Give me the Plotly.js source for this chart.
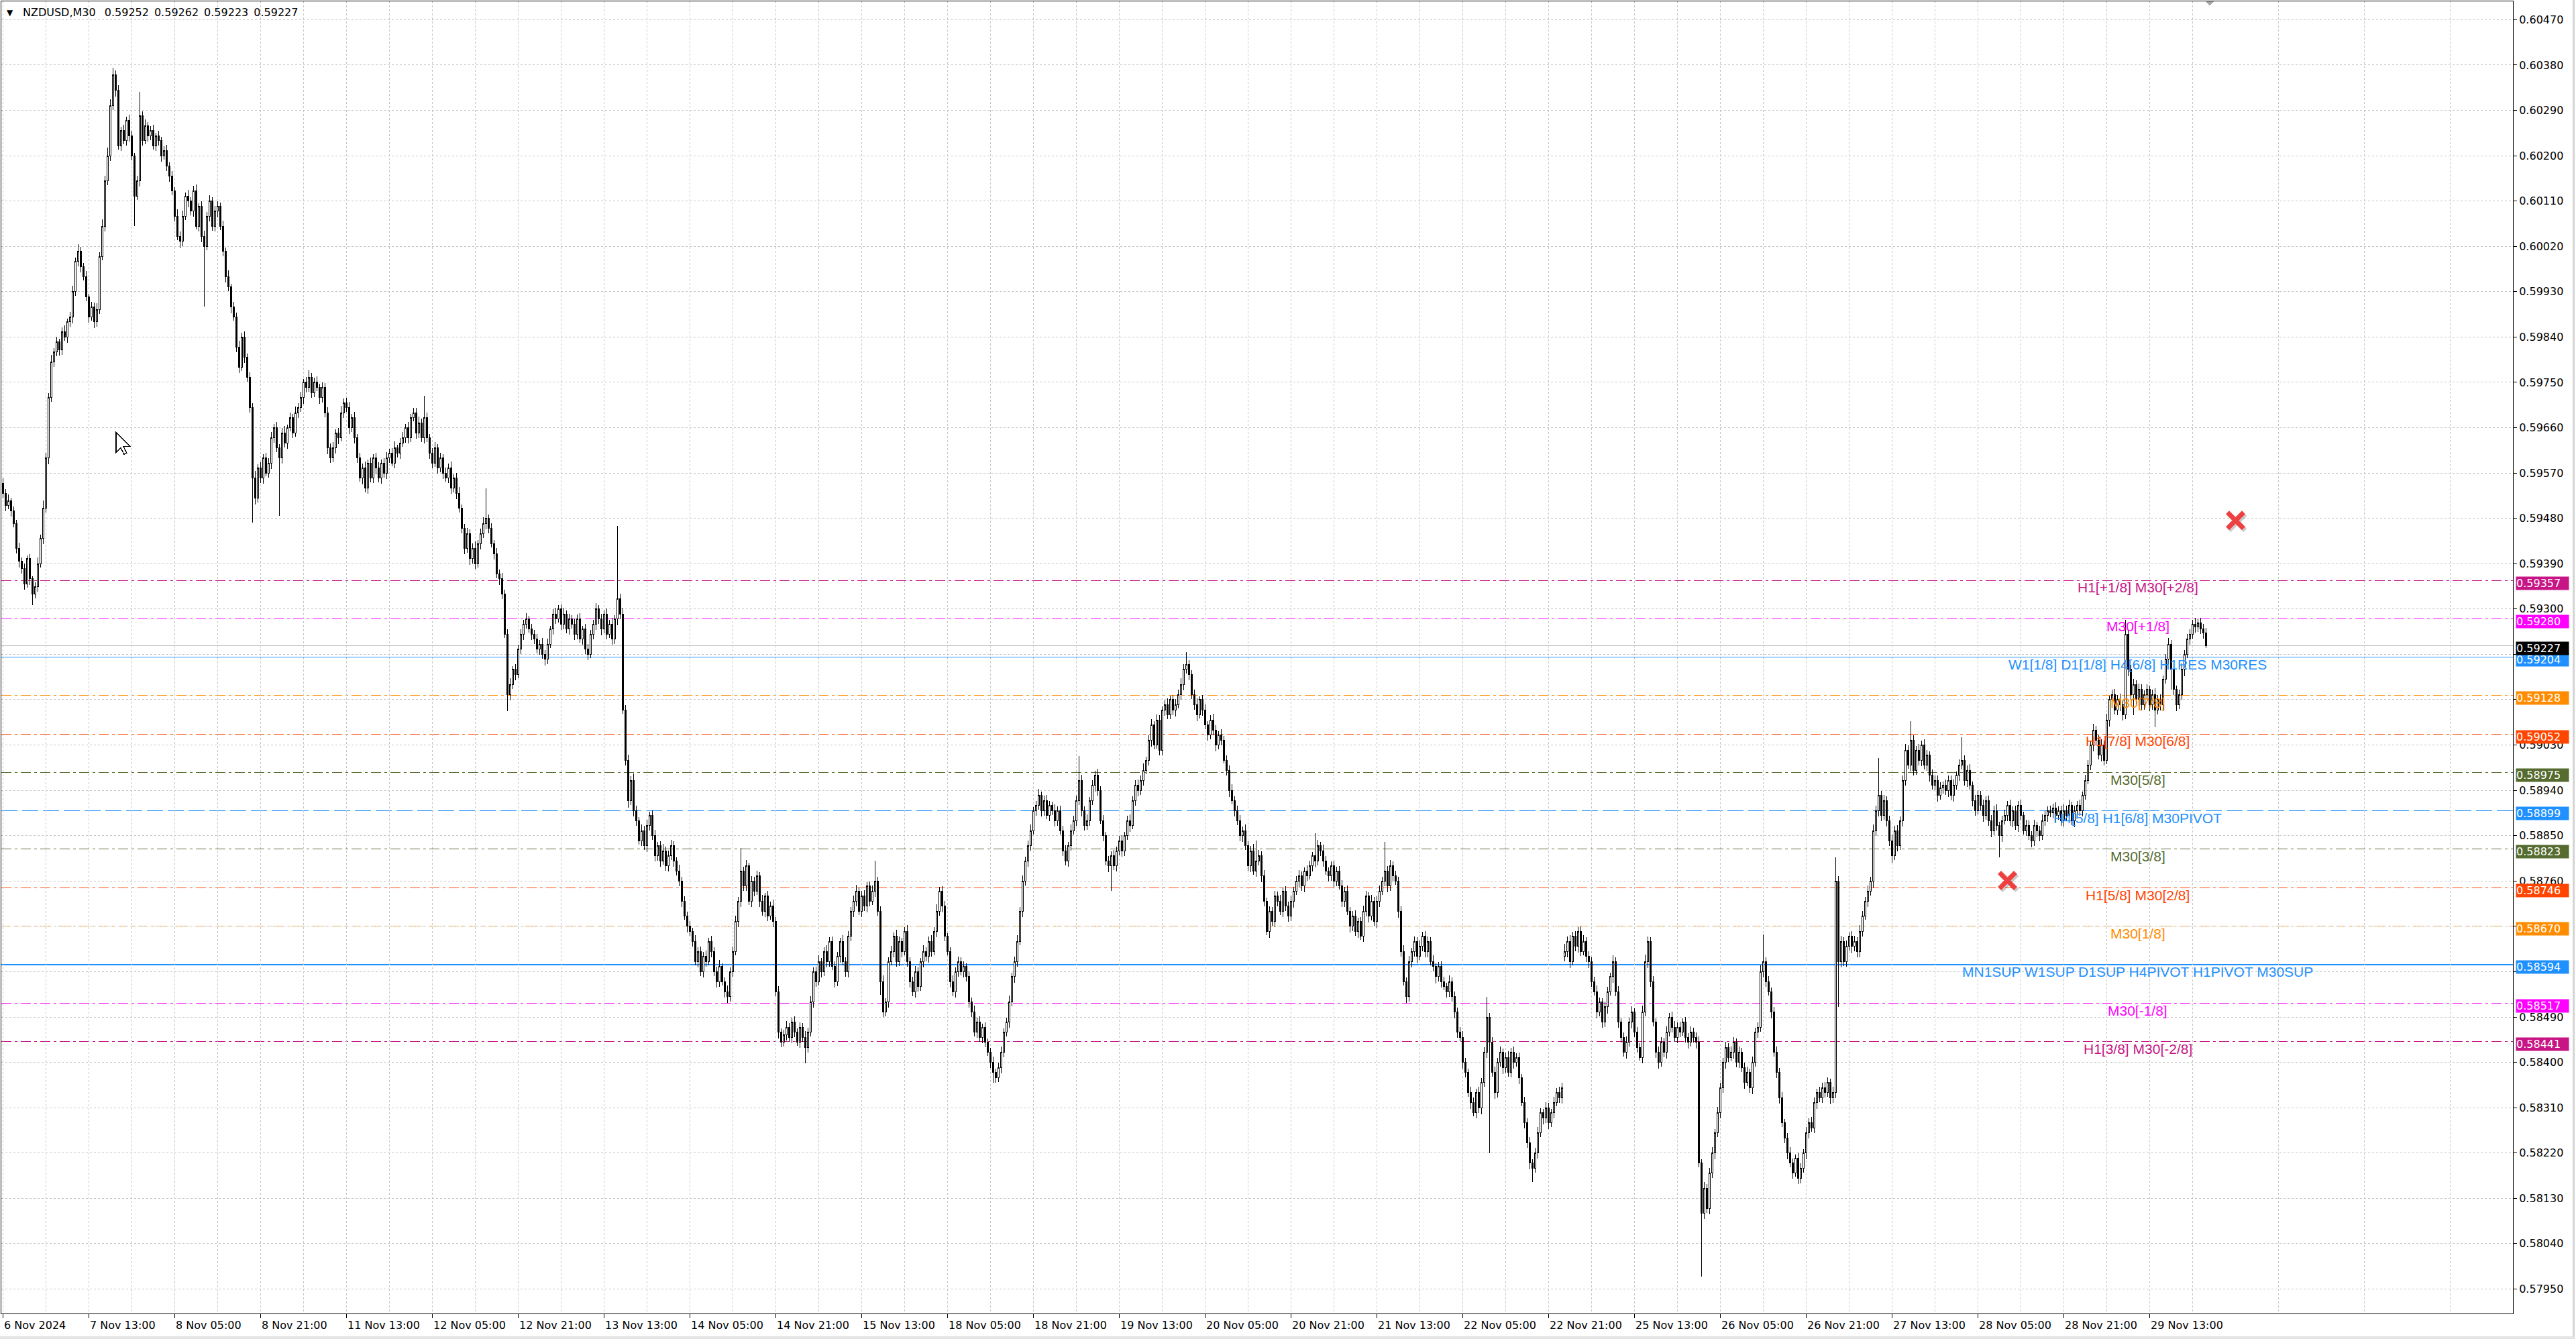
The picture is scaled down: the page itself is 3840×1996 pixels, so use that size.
<!DOCTYPE html>
<html><head><meta charset="utf-8">
<script src="https://cdn.plot.ly/plotly-3.0.1.min.js"></script>
<style>
html,body{margin:0;padding:0;background:#fff;overflow:hidden}
#chart{width:3840px;height:1996px}
#chart .shapelayer path, #chart .boxlayer path { shape-rendering: crispEdges; }
</style>
</head><body><div id="chart"></div>
<script>
// ---------------- DATA ----------------
const symbolName = "NZDUSD,M30";
const lastBarOHLC = [0.59252, 0.59262, 0.59223, 0.59227];
const priceBase = 0.57;          // prices below are in 0.00001 units above this base
const priceUnit = 0.00001;
const firstOpen = 2550;
const gapIndex = 582;            // first bar after the weekend gap (25 Nov)
const gapOpen = 1610;

const closeUnits = [
2530,2505,2515,2495,2470,2420,2395,2380,2350,2400, 2360,2330,2345,2390,2440,2500,2600,2720,2790,2810,
2830,2815,2850,2840,2870,2880,2930,2990,3010,2980, 2960,2920,2880,2900,2870,2895,3000,3060,3150,3200,
3300,3360,3330,3220,3250,3230,3270,3240,3200,3120, 3150,3280,3230,3260,3240,3250,3220,3240,3230,3200,
3210,3180,3160,3130,3080,3040,3030,3080,3120,3110, 3090,3130,3060,3100,3040,3020,3080,3110,3060,3090,
3100,3060,3010,2960,2940,2900,2880,2820,2780,2840, 2800,2760,2700,2560,2520,2580,2560,2600,2570,2590,
2640,2660,2620,2600,2650,2630,2660,2680,2650,2690, 2700,2720,2750,2740,2760,2730,2750,2740,2720,2740,
2690,2620,2600,2620,2650,2640,2690,2710,2700,2660, 2680,2640,2600,2560,2580,2540,2590,2560,2600,2580,
2560,2590,2570,2600,2610,2590,2620,2610,2630,2640, 2660,2640,2680,2690,2650,2670,2640,2680,2640,2610,
2590,2620,2580,2600,2570,2560,2580,2540,2560,2530, 2500,2460,2420,2450,2400,2420,2390,2430,2450,2470,
2480,2460,2430,2410,2370,2360,2330,2250,2130,2150, 2180,2170,2220,2250,2270,2280,2260,2250,2240,2220,
2230,2210,2200,2230,2260,2290,2280,2300,2270,2290, 2260,2280,2270,2250,2280,2240,2260,2220,2210,2250,
2270,2300,2280,2260,2290,2250,2270,2240,2280,2320, 2290,2100,2000,1920,1960,1900,1880,1840,1860,1830,
1870,1890,1850,1810,1830,1800,1820,1790,1810,1830, 1800,1780,1760,1720,1690,1670,1660,1640,1600,1620,
1580,1610,1600,1640,1620,1580,1560,1590,1560,1540, 1530,1580,1620,1680,1720,1780,1750,1790,1720,1760,
1740,1770,1720,1700,1730,1690,1710,1680,1540,1460, 1440,1455,1470,1450,1480,1460,1440,1470,1450,1430,
1460,1520,1580,1560,1600,1580,1620,1600,1640,1590, 1560,1610,1640,1600,1580,1650,1700,1720,1740,1700,
1730,1710,1750,1720,1740,1760,1700,1560,1500,1520, 1600,1620,1650,1600,1640,1620,1660,1600,1560,1540,
1580,1550,1600,1620,1610,1640,1620,1660,1700,1740, 1710,1650,1620,1560,1540,1580,1600,1580,1590,1570,
1520,1500,1460,1480,1450,1470,1440,1420,1400,1380, 1370,1390,1420,1460,1480,1520,1570,1600,1640,1700,
1760,1800,1830,1860,1900,1910,1930,1900,1920,1890, 1910,1900,1880,1900,1860,1820,1800,1830,1860,1880,
1920,1960,1900,1870,1880,1920,1950,1970,1940,1880, 1850,1800,1790,1810,1790,1820,1840,1820,1850,1880,
1870,1920,1950,1940,1960,1980,2000,2040,2070,2030, 2080,2020,2100,2110,2090,2120,2100,2110,2130,2150,
2180,2190,2170,2130,2110,2090,2120,2100,2070,2050, 2080,2060,2030,2050,2040,2000,1980,1940,1920,1900,
1880,1850,1860,1830,1790,1820,1780,1800,1810,1770, 1720,1660,1700,1680,1730,1720,1700,1740,1710,1690,
1720,1740,1760,1770,1750,1780,1770,1790,1810,1800, 1830,1820,1800,1780,1770,1790,1760,1780,1750,1720,
1740,1700,1670,1690,1660,1680,1650,1700,1730,1690, 1720,1680,1720,1740,1760,1780,1750,1790,1770,1760,
1700,1620,1560,1530,1600,1620,1640,1610,1630,1650, 1620,1640,1600,1590,1570,1590,1560,1550,1540,1560,
1530,1500,1460,1450,1400,1380,1340,1320,1300,1340, 1310,1360,1420,1490,1440,1380,1340,1400,1420,1390,
1410,1380,1420,1400,1410,1370,1320,1280,1240,1200, 1190,1220,1260,1300,1290,1310,1280,1300,1320,1340,
1330,1350,1620,1640,1600,1650,1630,1660,1620,1640, 1610,1600,1560,1540,1500,1520,1480,1510,1540,1570,
1600,1540,1480,1450,1420,1440,1480,1500,1460,1430, 1410,1500,1600,1640,1560,1480,1420,1400,1440,1420,
1460,1490,1470,1450,1470,1460,1480,1450,1440,1460, 1450,1440,1200,1100,1150,1110,1180,1220,1260,1300,
1350,1400,1430,1410,1420,1440,1400,1420,1390,1360, 1380,1350,1400,1460,1470,1580,1600,1560,1540,1500,
1420,1380,1330,1280,1250,1220,1200,1180,1210,1170, 1190,1220,1260,1280,1270,1320,1340,1330,1350,1340,
1360,1330,1340,1760,1600,1640,1600,1630,1650,1630, 1640,1620,1660,1690,1720,1740,1760,1860,1900,1930,
1890,1920,1880,1840,1810,1860,1830,1880,1960,2020, 1990,2040,1980,2020,2000,2030,1990,2010,1970,1950,
1960,1930,1945,1950,1940,1960,1930,1950,1970,1990, 2000,1960,1980,1950,1920,1900,1930,1910,1890,1920,
1880,1860,1900,1870,1850,1880,1890,1910,1880,1900, 1870,1910,1890,1860,1870,1850,1840,1870,1860,1850,
1880,1890,1900,1895,1905,1890,1900,1880,1900,1890, 1910,1880,1900,1910,1900,1930,1960,1990,2030,2060,
2040,2010,2030,2000,2080,2120,2130,2100,2120,2110, 2090,2250,2180,2130,2150,2120,2140,2110,2130,2140,
2110,2130,2100,2120,2110,2160,2200,2230,2180,2140, 2110,2130,2180,2210,2240,2250,2270,2265,2272,2260,
2252,2227
];

const upperWick = [
10,8,12,6,9,7,11,8,10,6,9,5,8,12,7,15,10,9,14,8,
11,7,9,13,6,10,12,8,15,9,7,11,6,10,8,12,9,14,10,16,
12,15,9,10,8,12,7,11,9,6,10,47,8,12,7,9,11,6,10,8,
9,12,7,10,8,14,9,11,7,12,8,10,13,6,9,11,8,12,7,10,
9,7,11,8,12,6,10,9,13,8,11,7,10,9,14,8,12,7,10,9,
11,8,12,7,9,13,6,10,8,12,9,11,7,10,14,8,9,12,7,10,
8,11,9,12,7,10,13,8,9,11,7,12,8,10,9,13,7,11,8,10,
12,7,9,11,8,10,13,6,9,12,8,11,7,10,9,12,8,43,10,7,
9,12,8,10,7,11,9,13,8,10,12,7,9,11,8,10,14,7,9,12,
60,8,10,7,11,9,12,8,10,13,7,11,9,10,8,12,7,11,9,10,
8,12,9,11,7,10,13,8,9,12,7,11,8,10,9,12,7,10,11,8,
9,12,8,10,7,11,9,13,8,145,10,12,9,11,8,14,10,7,12,9,
11,8,10,12,7,9,13,8,10,11,9,7,12,8,10,9,11,7,12,8,
10,9,12,7,11,8,10,13,7,9,12,8,10,11,9,46,8,12,7,10,
9,11,8,12,7,10,9,13,8,11,7,10,12,8,9,11,7,10,8,12,
9,11,8,10,13,7,9,12,8,10,11,9,7,12,8,10,9,11,13,7,
10,12,8,9,11,41,8,10,12,7,9,11,8,13,10,7,9,12,8,10,
11,9,7,12,8,10,13,9,14,8,10,11,7,9,12,8,10,9,11,7,
10,8,12,9,11,7,10,8,9,12,8,10,11,7,9,12,8,10,13,9,
11,8,10,12,7,9,13,8,10,11,9,7,12,8,10,9,11,8,12,10,
9,48,11,8,12,7,10,9,13,8,11,7,10,9,12,8,10,11,7,9,
12,8,10,11,9,13,7,10,12,8,11,9,7,10,12,8,9,11,10,12,
11,25,9,8,10,12,7,9,11,8,10,12,9,7,11,8,10,9,12,8,
10,11,8,12,9,10,14,40,11,9,12,7,10,8,11,9,12,8,10,9,
11,8,10,12,9,7,11,10,8,45,11,8,12,10,7,9,11,8,10,12,
9,11,8,10,12,7,9,11,10,8,12,9,10,11,8,57,10,12,9,11,
8,10,12,9,11,7,10,8,12,9,11,10,8,12,7,9,11,10,8,12,
9,11,8,10,12,9,7,11,10,8,12,9,10,40,8,10,12,9,11,8,
10,12,9,11,8,10,7,12,9,11,8,10,12,9,7,11,10,8,12,9,
11,9,15,10,12,9,11,8,10,12,9,11,8,10,12,9,7,11,10,8,
12,9,11,8,10,12,9,11,7,10,8,12,14,10,9,11,8,12,10,9,
11,8,10,12,9,11,7,10,8,12,9,10,11,8,12,9,10,11,8,12,
10,9,11,8,12,10,7,11,9,10,12,8,11,9,10,12,54,9,11,8,
10,12,9,11,8,10,12,9,7,11,10,8,12,9,11,10,8,12,9,11,
10,8,12,47,10,11,9,12,8,10,11,9,12,10,8,11,9,12,10,74,
9,11,8,10,12,9,11,8,10,12,9,37,10,8,12,9,11,10,8,12,
9,10,11,8,12,9,10,11,8,12,45,10,9,12,8,11,10,9,12,8,
10,11,9,12,8,10,11,9,12,8,10,9,11,8,12,10,9,11,8,10,
12,9,8,10,9,11,8,10,12,9,11,8,10,9,12,8,11,10,9,12,
8,10,11,9,12,8,10,11,9,12,8,29,10,9,11,8,12,10,9,11,
8,10,12,9,11,8,10,12,9,11,8,10,12,9,11,10,8,12,9,10,
11,10
];

const lowerWick = [
9,11,7,12,8,10,13,9,11,8,12,22,9,10,7,11,8,12,9,10,
8,12,10,7,11,9,13,8,10,12,7,9,11,8,12,10,9,7,11,8,
10,9,12,8,11,7,10,12,9,60,8,11,10,7,12,9,8,11,10,12,
8,10,12,9,11,7,13,10,8,12,9,11,7,10,12,120,8,11,9,10,
12,8,10,11,9,13,7,10,12,8,11,9,10,88,12,8,10,11,7,9,
12,10,8,115,11,9,12,7,10,8,11,9,12,10,8,11,9,7,12,10,
9,12,10,8,11,13,7,10,9,12,8,11,10,7,12,9,11,8,10,12,
8,11,9,12,10,7,11,9,12,8,10,11,9,7,12,10,8,11,9,12,
10,8,11,9,12,7,10,11,8,12,9,10,11,8,12,9,10,7,11,9,
12,10,8,11,9,12,10,7,32,11,9,12,8,10,11,9,7,12,10,8,
11,9,12,10,8,11,9,7,12,10,8,11,9,12,10,7,11,9,12,8,
10,11,9,12,8,10,7,11,9,12,10,8,11,14,9,12,10,8,11,9,
12,10,8,11,9,12,7,10,11,8,12,9,10,11,7,12,9,10,8,11,
9,12,10,8,11,9,12,10,7,11,12,9,10,8,11,12,9,10,8,11,
10,8,11,9,12,10,7,11,9,12,10,8,11,9,12,10,7,11,9,32,
11,9,12,10,8,11,9,12,10,7,11,9,12,8,10,11,9,12,10,8,
11,9,12,10,8,11,9,26,10,9,12,8,11,10,9,12,7,10,11,9,
12,10,8,11,9,12,10,7,11,9,12,10,8,11,9,12,10,8,11,9,
12,10,8,11,9,12,10,7,11,21,11,9,12,10,8,11,9,12,10,8,
11,9,12,10,8,11,9,12,10,7,11,9,12,10,8,11,9,12,10,8,
11,9,12,10,8,11,9,12,10,7,11,9,12,49,8,11,9,12,10,8,
13,7,10,12,9,11,8,10,13,9,7,11,10,12,8,9,11,13,7,10,
12,8,11,9,10,13,7,12,9,11,8,10,12,9,11,7,10,13,8,12,
9,11,13,8,10,12,7,11,9,12,10,8,13,9,11,10,7,12,9,11,
10,13,8,11,9,12,10,7,11,13,9,10,12,8,11,9,13,10,7,12,
11,8,12,10,9,13,7,11,10,12,8,9,13,11,7,10,12,9,11,8,
13,10,8,12,9,11,10,13,7,9,12,11,8,10,13,9,11,7,12,10,
9,12,11,8,13,10,9,12,7,11,10,13,9,11,220,8,12,10,9,13,
11,8,10,12,9,13,7,11,10,12,27,9,11,8,13,10,12,9,11,7,
10,12,9,11,13,8,10,12,9,7,11,13,10,8,12,9,11,10,13,8,
12,9,11,10,8,13,9,12,10,11,7,12,9,13,10,8,11,12,9,10,
13,8,11,9,12,10,7,11,13,9,10,12,8,125,11,9,12,10,13,8,
11,10,12,9,8,13,10,11,9,12,7,10,13,8,11,9,12,10,8,13,
9,11,12,8,10,13,9,11,7,12,10,9,13,11,8,10,12,9,11,10,
8,13,10,11,90,12,9,10,8,13,9,11,12,10,7,11,9,13,10,12,
11,9,12,10,13,8,11,9,12,10,7,13,11,9,10,12,8,11,13,9,
10,12,8,11,9,13,10,12,9,11,8,10,13,9,12,11,8,10,12,9,
11,13,9,10,43,12,8,11,10,13,9,12,10,8,11,9,13,10,12,11,
9,10,12,8,11,13,9,10,12,11,8,9,13,10,11,12,9,8,10,13,
11,9,12,10,8,13,11,9,10,12,11,8,13,10,40,9,12,11,10,8,
12,10,35,9,11,13,8,10,40,11,12,9,10,13,8,11,9,12,10,9,
11,4
];

const xTickBars = [0,32,64,96,128,160,192,224,256,288,320,352,384,416,448,480,512,544,576,608,640,672,704,736,768,800];
const xTickLabels = ["6 Nov 2024","7 Nov 13:00","8 Nov 05:00","8 Nov 21:00","11 Nov 13:00","12 Nov 05:00","12 Nov 21:00",
  "13 Nov 13:00","14 Nov 05:00","14 Nov 21:00","15 Nov 13:00","18 Nov 05:00","18 Nov 21:00","19 Nov 13:00","20 Nov 05:00",
  "20 Nov 21:00","21 Nov 13:00","22 Nov 05:00","22 Nov 21:00","25 Nov 13:00","26 Nov 05:00","26 Nov 21:00","27 Nov 13:00",
  "28 Nov 05:00","28 Nov 21:00","29 Nov 13:00"];
const yTickValues = [0.57950,0.58040,0.58130,0.58220,0.58310,0.58400,0.58490,0.58580,0.58670,0.58760,0.58850,0.58940,
  0.59030,0.59120,0.59210,0.59300,0.59390,0.59480,0.59570,0.59660,0.59750,0.59840,0.59930,0.60020,0.60110,0.60200,
  0.60290,0.60380,0.60470];
const hiddenTickValues = [0.58580, 0.58670, 0.59120, 0.59210];   // fully covered by price boxes in the original

const levelPrices = [0.59357,0.59280,0.59204,0.59128,0.59052,0.58975,0.58899,0.58823,0.58746,0.58670,0.58594,0.58517,0.58441];
const levelNames = ["H1[+1/8] M30[+2/8]","M30[+1/8]","W1[1/8] D1[1/8] H4[6/8] H1RES M30RES","M30[7/8]","H1[7/8] M30[6/8]",
  "M30[5/8]","H4[5/8] H1[6/8] M30PIVOT","M30[3/8]","H1[5/8] M30[2/8]","M30[1/8]",
  "MN1SUP W1SUP D1SUP H4PIVOT H1PIVOT M30SUP","M30[-1/8]","H1[3/8] M30[-2/8]"];
const currentPrice = 0.59227;
const signalBars = [832, 747];
const signalPrices = [0.59476, 0.58761];

// ---------------- STYLES ----------------
const levelColors = ["#C71585","#FF00FF","#1E90FF","#FF8C00","#FF4500","#556B2F","#1E90FF","#556B2F","#FF4500","#FF8C00","#1E90FF","#FF00FF","#C71585"];
const DASHDOT = "15px,5px,4px,5px";
const levelDash = [DASHDOT,DASHDOT,"solid",DASHDOT,DASHDOT,DASHDOT,"24px,7px",DASHDOT,DASHDOT,DASHDOT,"solid",DASHDOT,DASHDOT];
const levelWidth = [1,1,1,1,1,1,1,1,1,1,2,1,1];

const AX_FONT = "DejaVu Sans, Verdana, sans-serif";
const LBL_FONT = "Liberation Sans, Arial, sans-serif";
const X_RANGE = [-0.625, 935.375];
const Y_RANGE = [0.579013, 0.605065];

// ---------------- BUILD ----------------
const P = u => +(priceBase + u * priceUnit).toFixed(5);
const n = closeUnits.length;
const xs = [], o = [], h = [], l = [], c = [];
for (let i = 0; i < n; i++) {
  const op = i === 0 ? firstOpen : (i === gapIndex ? gapOpen : closeUnits[i - 1]);
  const cl = closeUnits[i];
  xs.push(i);
  o.push(P(op)); c.push(P(cl));
  h.push(P(Math.max(op, cl) + upperWick[i]));
  l.push(P(Math.min(op, cl) - lowerWick[i]));
}

const traces = [{
  type: 'candlestick', x: xs, open: o, high: h, low: l, close: c,
  increasing: {line: {color: '#000000', width: 1}, fillcolor: '#ffffff'},
  decreasing: {line: {color: '#000000', width: 1}, fillcolor: '#000000'},
  whiskerwidth: 0, hoverinfo: 'skip', showlegend: false
}, {
  type: 'scatter', mode: 'markers', x: signalBars.map(b => b + 0.6), y: signalPrices.map(p => p - 0.00004),
  marker: {symbol: 'x-thin', size: 24, color: 'rgba(0,0,0,0.2)', line: {width: 7, color: 'rgba(0,0,0,0.2)'}},
  hoverinfo: 'skip', showlegend: false, cliponaxis: false
}, {
  type: 'scatter', mode: 'markers', x: signalBars, y: signalPrices,
  marker: {symbol: 'x-thin', size: 24, color: '#EE4040', line: {width: 7, color: '#EE4040'}},
  hoverinfo: 'skip', showlegend: false, cliponaxis: false
}];

const shapes = [];
levelPrices.forEach((p, i) => shapes.push({
  type: 'line', xref: 'paper', x0: 0, x1: 1, yref: 'y', y0: p, y1: p, layer: 'below',
  line: {color: levelColors[i], width: levelWidth[i], dash: levelDash[i]}
}));
shapes.push({type: 'line', xref: 'paper', x0: 0, x1: 1, yref: 'y', y0: currentPrice, y1: currentPrice, layer: 'below',
  line: {color: '#C0C0C0', width: 1}});
// window frame (light gray right and bottom edges)
shapes.push({type: 'line', xref: 'paper', yref: 'paper', x0: 1.0243, x1: 1.0243, y0: -0.02, y1: 1.002, layer: 'above',
  line: {color: '#D4D4D4', width: 3}});
shapes.push({type: 'line', xref: 'paper', yref: 'paper', x0: -0.001, x1: 1.0243, y0: -0.0182, y1: -0.0182, layer: 'above',
  line: {color: '#E4E4E4', width: 4}});
// chart-shift marker at the top edge (small gray triangle)
shapes.push({type: 'path', xref: 'x', yref: 'paper', layer: 'above', fillcolor: '#A8A8A8', line: {width: 0},
  path: 'M820.9,1 L823.9,1 L822.4,0.9965 Z'});

// mouse cursor (pixel offsets -> data)
const pxX = 1 / 4, pxY = (Y_RANGE[1] - Y_RANGE[0]) / 1956;
const tipBar = 42.1, tipPrice = 0.59651;
const cur = [[0,0],[0,30],[7,23],[12,33],[16,31],[11,21],[21,21]];
shapes.push({type: 'path', xref: 'x', yref: 'y', fillcolor: '#ffffff', line: {color: '#000000', width: 1.2},
  path: cur.map((q, i) => (i ? 'L' : 'M') + (tipBar + q[0] * pxX) + ',' + (tipPrice - q[1] * pxY)).join(' ') + ' Z'});

const annotations = [];
// level labels
levelPrices.forEach((p, i) => annotations.push({
  x: 795.5, xref: 'x', y: p, yref: 'y', yanchor: 'top', xanchor: 'center', yshift: 3, showarrow: false,
  text: levelNames[i], font: {family: LBL_FONT, size: 21, color: levelColors[i]}
}));
// price boxes on the axis
const boxPrices = levelPrices.concat([currentPrice]);
const boxColors = levelColors.concat(['#000000']);
boxPrices.forEach((p, i) => annotations.push({
  x: 1, xref: 'paper', xanchor: 'left', xshift: 4, y: p, yref: 'y', yanchor: 'middle', yshift: -4, showarrow: false,
  text: p.toFixed(5), font: {family: AX_FONT, size: 16, color: '#ffffff'},
  bgcolor: boxColors[i], borderpad: 0, width: 78, height: 19, align: 'left'
}));
// time labels
xTickBars.forEach((b, i) => annotations.push({
  x: b, xref: 'x', y: 0, yref: 'paper', yanchor: 'top', xanchor: 'left', yshift: -6, xshift: -1, showarrow: false,
  text: xTickLabels[i], font: {family: AX_FONT, size: 16, color: '#000000'}
}));
// header
annotations.push({x: 0, xref: 'paper', y: 1, yref: 'paper', xanchor: 'left', yanchor: 'top', xshift: 6, yshift: -8,
  showarrow: false, text: '\u25BC', font: {family: AX_FONT, size: 12, color: '#000'}});
annotations.push({x: 0, xref: 'paper', y: 1, yref: 'paper', xanchor: 'left', yanchor: 'top', xshift: 30, yshift: -5,
  showarrow: false, text: symbolName + '\u2002 ' + lastBarOHLC.map(v => v.toFixed(5)).join('\u2002'),
  font: {family: AX_FONT, size: 16, color: '#000'}});

const layout = {
  width: 3840, height: 1996,
  margin: {l: 2, r: 94, t: 2, b: 38, pad: 0},
  paper_bgcolor: '#ffffff', plot_bgcolor: '#ffffff',
  showlegend: false, dragmode: false,
  boxgap: 0, boxgroupgap: 0.5,
  xaxis: {
    range: X_RANGE, type: 'linear', rangeslider: {visible: false},
    tickmode: 'array', tickvals: xTickBars, showticklabels: false,
    ticks: 'outside', ticklen: 6, tickcolor: '#000', tickwidth: 1,
    showgrid: true, gridcolor: '#C4C4C4', griddash: '3px,3px', gridwidth: 1,
    minor: {tickmode: 'linear', tick0: 16, dtick: 32, showgrid: true, gridcolor: '#C4C4C4', griddash: '3px,3px', gridwidth: 1, ticks: ''},
    showline: true, linecolor: '#000', linewidth: 1, mirror: true, zeroline: false, fixedrange: true
  },
  yaxis: {
    range: Y_RANGE, side: 'right', tickmode: 'array', tickvals: yTickValues,
    ticktext: yTickValues.map(v => hiddenTickValues.includes(v) ? '' : v.toFixed(5)),
    ticks: 'outside', ticklen: 5, tickcolor: '#000', tickwidth: 1,
    tickfont: {family: AX_FONT, size: 16, color: '#000'},
    showgrid: true, gridcolor: '#C4C4C4', griddash: '3px,3px', gridwidth: 1,
    showline: true, linecolor: '#000', linewidth: 1, mirror: true, zeroline: false, fixedrange: true
  },
  shapes: shapes, annotations: annotations
};

Plotly.newPlot('chart', traces, layout, {staticPlot: true, displayModeBar: false});
</script>
</body></html>
